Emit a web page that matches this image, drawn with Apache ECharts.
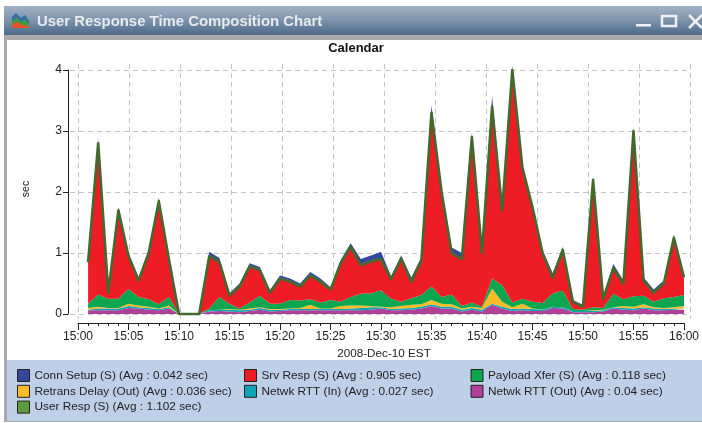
<!DOCTYPE html>
<html><head><meta charset="utf-8">
<style>html,body{margin:0;padding:0;background:#fff}#c{width:702px;height:423px}</style>
<script src="https://cdn.jsdelivr.net/npm/echarts@6/dist/echarts.min.js"></script>
</head><body><div id="c"></div>
<script>
const xTickLabels = ['15:00','15:05','15:10','15:15','15:20','15:25','15:30','15:35','15:40','15:45','15:50','15:55','16:00'];
const yTicks = [0,1,2,3,4];
const netwkRttOut = [.06,.06,.06,.06,.1,.09,.07,.06,.09,0,0,0,.04,.05,.04,.03,.05,.07,.04,.05,.06,.06,.06,.06,.06,.06,.06,.06,.07,.09,.06,.06,.07,.09,.13,.09,.09,.04,.07,.04,.15,.09,.05,.06,.05,.05,.1,.09,.03,.03,.03,.04,.09,.07,.06,.09,.06,.06,.07,.07];
const netwkRttIn = [.01,.03,.03,.03,.03,.02,.03,.02,.02,0,0,0,.02,.02,.03,.03,.02,.03,.03,.02,.02,.02,.02,.02,.02,.02,.03,.04,.04,.02,.02,.03,.03,.03,.03,.03,.03,.03,.03,.03,.02,.03,.03,.03,.03,.02,.02,.02,.02,.02,.02,.02,.02,.03,.03,.02,.03,.02,.02,.02];
const retransDelay = [.03,.03,.01,.01,.04,.03,.02,.01,.03,0,0,0,0,0,.01,.01,.02,.01,.01,.01,.01,.02,.07,.01,.01,.05,.05,.04,.02,.01,.03,.04,.05,.04,.07,.05,.04,.02,.02,.03,.25,.08,.03,.08,.01,0,0,0,0,0,.01,.01,0,.03,.03,.05,.02,.02,.02,.04];
const payloadXfer = [.07,.2,.15,.15,.24,.14,.12,.07,.14,0,0,0,.03,.21,.09,.02,.1,.19,.09,.09,.14,.12,.09,.1,.14,.07,.14,.19,.21,.27,.14,.07,.11,.15,.22,.11,.16,.04,.07,.02,.16,.27,.08,.08,.11,.11,.22,.27,.03,.02,.05,.03,.22,.11,.17,.14,.09,.16,.17,.18];
const srvResp = [.7,2.5,.12,1.47,.56,.29,.78,1.71,.64,0,0,0,.88,.59,.15,.38,.61,.44,.2,.43,.32,.25,.41,.36,.19,.65,.84,.49,.54,.53,.34,.73,.29,.59,2.87,1.74,.7,.79,2.73,.9,2.84,1.25,3.83,2.17,1.57,.84,.28,.69,.14,.07,2.11,.17,.44,.28,2.73,.27,.17,.26,.99,.31];
const connSetup = [.03,.05,.02,.03,.03,.03,.03,.03,.02,0,0,0,.05,.05,.02,.03,.03,.03,.02,.03,.03,.03,.04,.03,.02,.03,.04,.08,.08,.1,.03,.03,.05,.03,.1,.03,.07,.08,.05,.02,.15,.02,.05,.02,.02,.02,.05,.03,.01,.01,.02,.01,.05,.03,.03,.03,.03,.03,.03,.02];
const userResp = [.85,2.8,.35,1.7,.95,.55,1,1.85,.9,0,0,0,.95,.85,.3,.45,.78,.72,.35,.58,.53,.45,.63,.53,.4,.83,1.1,.8,.86,.9,.57,.91,.53,.88,3.3,2,1,.9,2.9,1,3.4,1.7,4,2.4,1.75,1,.6,1.05,.2,.12,2.2,.25,.75,.5,3,.55,.35,.5,1.25,.6];

const names = {
  conn:'Conn Setup (S) (Avg : 0.042 sec)', srv:'Srv Resp (S) (Avg : 0.905 sec)', pay:'Payload Xfer (S) (Avg : 0.118 sec)',
  ret:'Retrans Delay (Out) (Avg : 0.036 sec)', rin:'Netwk RTT (In) (Avg : 0.027 sec)', rout:'Netwk RTT (Out) (Avg : 0.04 sec)',
  user:'User Resp (S) (Avg : 1.102 sec)'
};
const t = m => Date.UTC(2008,11,10,15,m);
const majorMinutes = xTickLabels.map((_,i)=>i*5);
const pts = vals => vals.map((v,i)=>[t(i+1),v]);
const area = (name,vals,color)=>({name,type:'line',stack:'t',data:pts(vals),symbol:'none',xAxisIndex:0,yAxisIndex:0,
  lineStyle:{width:0},areaStyle:{color,opacity:1},itemStyle:{color},clip:false,silent:true,z:2});
const FONT='Liberation Sans, Arial';
const legendBase = {orient:'vertical',icon:'rect',itemWidth:12,itemHeight:12,itemGap:2.8,padding:0,selectedMode:false,
  textStyle:{fontFamily:FONT,fontSize:11.8,color:'#222'},
  itemStyle:{borderColor:'#222',borderWidth:1}};
const chart = echarts.init(document.getElementById('c'),null,{renderer:'canvas'});
const W=702;
const grad=new echarts.graphic.LinearGradient(0,0,0,1,[{offset:0,color:'#a0b2c6'},{offset:.5,color:'#7d93ab'},{offset:1,color:'#4c6a88'}]);
chart.setOption({
  animation:false,
  useUTC:true,
  backgroundColor:'#fff',
  graphic:[
    {type:'rect',z:-5,silent:true,shape:{x:4,y:6,width:W-4,height:416},style:{fill:'#a9a9a9'}},
    {type:'rect',z:-4,silent:true,shape:{x:4,y:6,width:W-4,height:29},style:{fill:grad}},
    {type:'rect',z:-4,silent:true,shape:{x:7,y:40,width:W-7,height:320},style:{fill:'#fff'}},
    {type:'rect',z:-4,silent:true,shape:{x:7,y:360,width:W-7,height:61},style:{fill:'#bdd0e8'}},
    {type:'polygon',z:-3,silent:true,shape:{points:[[12,28],[12,17],[16,13],[21,18],[25,15],[29,21],[29,28]]},style:{fill:'#2f6fa8'}},
    {type:'polygon',z:-3,silent:true,shape:{points:[[12,28],[12,21],[17,17],[21,22],[25,19],[29,24],[29,28]]},style:{fill:'#3f9a45'}},
    {type:'polygon',z:-3,silent:true,shape:{points:[[12,28],[12,24],[18,22],[23,25],[29,26],[29,28]]},style:{fill:'#e2552a'}},
    {type:'text',z:-3,silent:true,x:37,y:14,style:{text:'User Response Time Composition Chart',fontFamily:FONT,fontWeight:'bold',fontSize:14.9,fill:'#e6ebf0',shadowColor:'#2a3a4a',shadowBlur:2,shadowOffsetX:1,shadowOffsetY:1}},
    {type:'rect',z:-3,silent:true,shape:{x:636,y:24,width:15,height:2.5},style:{fill:'#eef2f6'}},
    {type:'rect',z:-3,silent:true,shape:{x:662,y:16,width:14,height:10},style:{fill:'none',stroke:'#eef2f6',lineWidth:2.5}},
    {type:'line',z:-3,silent:true,shape:{x1:689,y1:15,x2:702,y2:28},style:{stroke:'#eef2f6',lineWidth:2.5}},
    {type:'line',z:-3,silent:true,shape:{x1:702,y1:15,x2:689,y2:28},style:{stroke:'#eef2f6',lineWidth:2.5}},
  ],
  title:{text:'Calendar',left:356,top:42,textAlign:'center',padding:0,textStyle:{fontFamily:FONT,fontWeight:'bold',fontSize:13,color:'#111'}},
  legend:[
    {...legendBase,left:17,top:369,data:[names.conn,names.ret,names.user]},
    {...legendBase,left:244,top:369,data:[names.srv,names.rin]},
    {...legendBase,left:470.5,top:369,data:[names.pay,names.rout]},
  ],
  grid:[
    {left:78,right:12,top:70,bottom:109},
    {left:70,right:12,top:64,bottom:104}
  ],
  xAxis:[
    {type:'time',gridIndex:0,position:'bottom',min:t(0),max:t(60),show:false},
    {type:'value',gridIndex:0,position:'bottom',min:0,max:60,interval:5,offset:9,
      axisLine:{show:true,onZero:false,lineStyle:{color:'#222',width:1}},
      axisTick:{show:true,length:7,lineStyle:{color:'#222'}},
      minorTick:{show:true,splitNumber:5,length:3,lineStyle:{color:'#222'}},
      splitLine:{show:false},
      axisLabel:{formatter:v=>xTickLabels[v/5],color:'#222',margin:8,hideOverlap:false,showMinLabel:true,showMaxLabel:true,fontFamily:FONT,fontSize:12},
      name:'2008-Dec-10 EST',nameLocation:'middle',nameGap:21,nameTextStyle:{color:'#222',fontFamily:FONT,fontSize:11.7,padding:[0,0,0,6]}},
    {type:'value',gridIndex:1,position:'bottom',min:-8/10.2,max:60,
      axisLine:{show:false},axisLabel:{show:false},
      axisTick:{show:true,length:0,customValues:majorMinutes},
      splitLine:{show:true,lineStyle:{color:'#c4c4c4',type:[5,4],width:1}}}
  ],
  yAxis:[
    {type:'value',gridIndex:0,min:0,max:4,interval:1,offset:10,
      axisLine:{show:true,onZero:false,lineStyle:{color:'#222',width:1}},
      axisTick:{show:true,length:5,lineStyle:{color:'#222'}},
      axisLabel:{color:'#222',margin:6,fontFamily:FONT,fontSize:12},
      splitLine:{show:false},
      name:'sec',nameLocation:'middle',nameGap:36,nameTextStyle:{color:'#222',fontFamily:FONT,fontSize:10.5,padding:[0,0,0,6]}},
    {type:'value',gridIndex:1,min:-5/61,max:4+6/61,
      axisLine:{show:false},axisLabel:{show:false},
      axisTick:{show:true,length:0,customValues:yTicks},
      splitLine:{show:true,lineStyle:{color:'#c4c4c4',type:[5,4],width:1}}}
  ],
  series:[
    area(names.rout,netwkRttOut,'#b0409a'),
    area(names.rin,netwkRttIn,'#10a5b5'),
    area(names.ret,retransDelay,'#f9bc28'),
    area(names.pay,payloadXfer,'#0ba650'),
    area(names.srv,srvResp,'#ee1c25'),
    area(names.conn,connSetup,'#33479b'),
    {name:names.user,type:'line',data:pts(userResp),symbol:'none',xAxisIndex:0,yAxisIndex:0,clip:false,silent:true,z:3,
      lineStyle:{color:'#43692f',width:2.6,join:'round'},itemStyle:{color:'#5e9a3e'}}
  ]
});
</script></body></html>
